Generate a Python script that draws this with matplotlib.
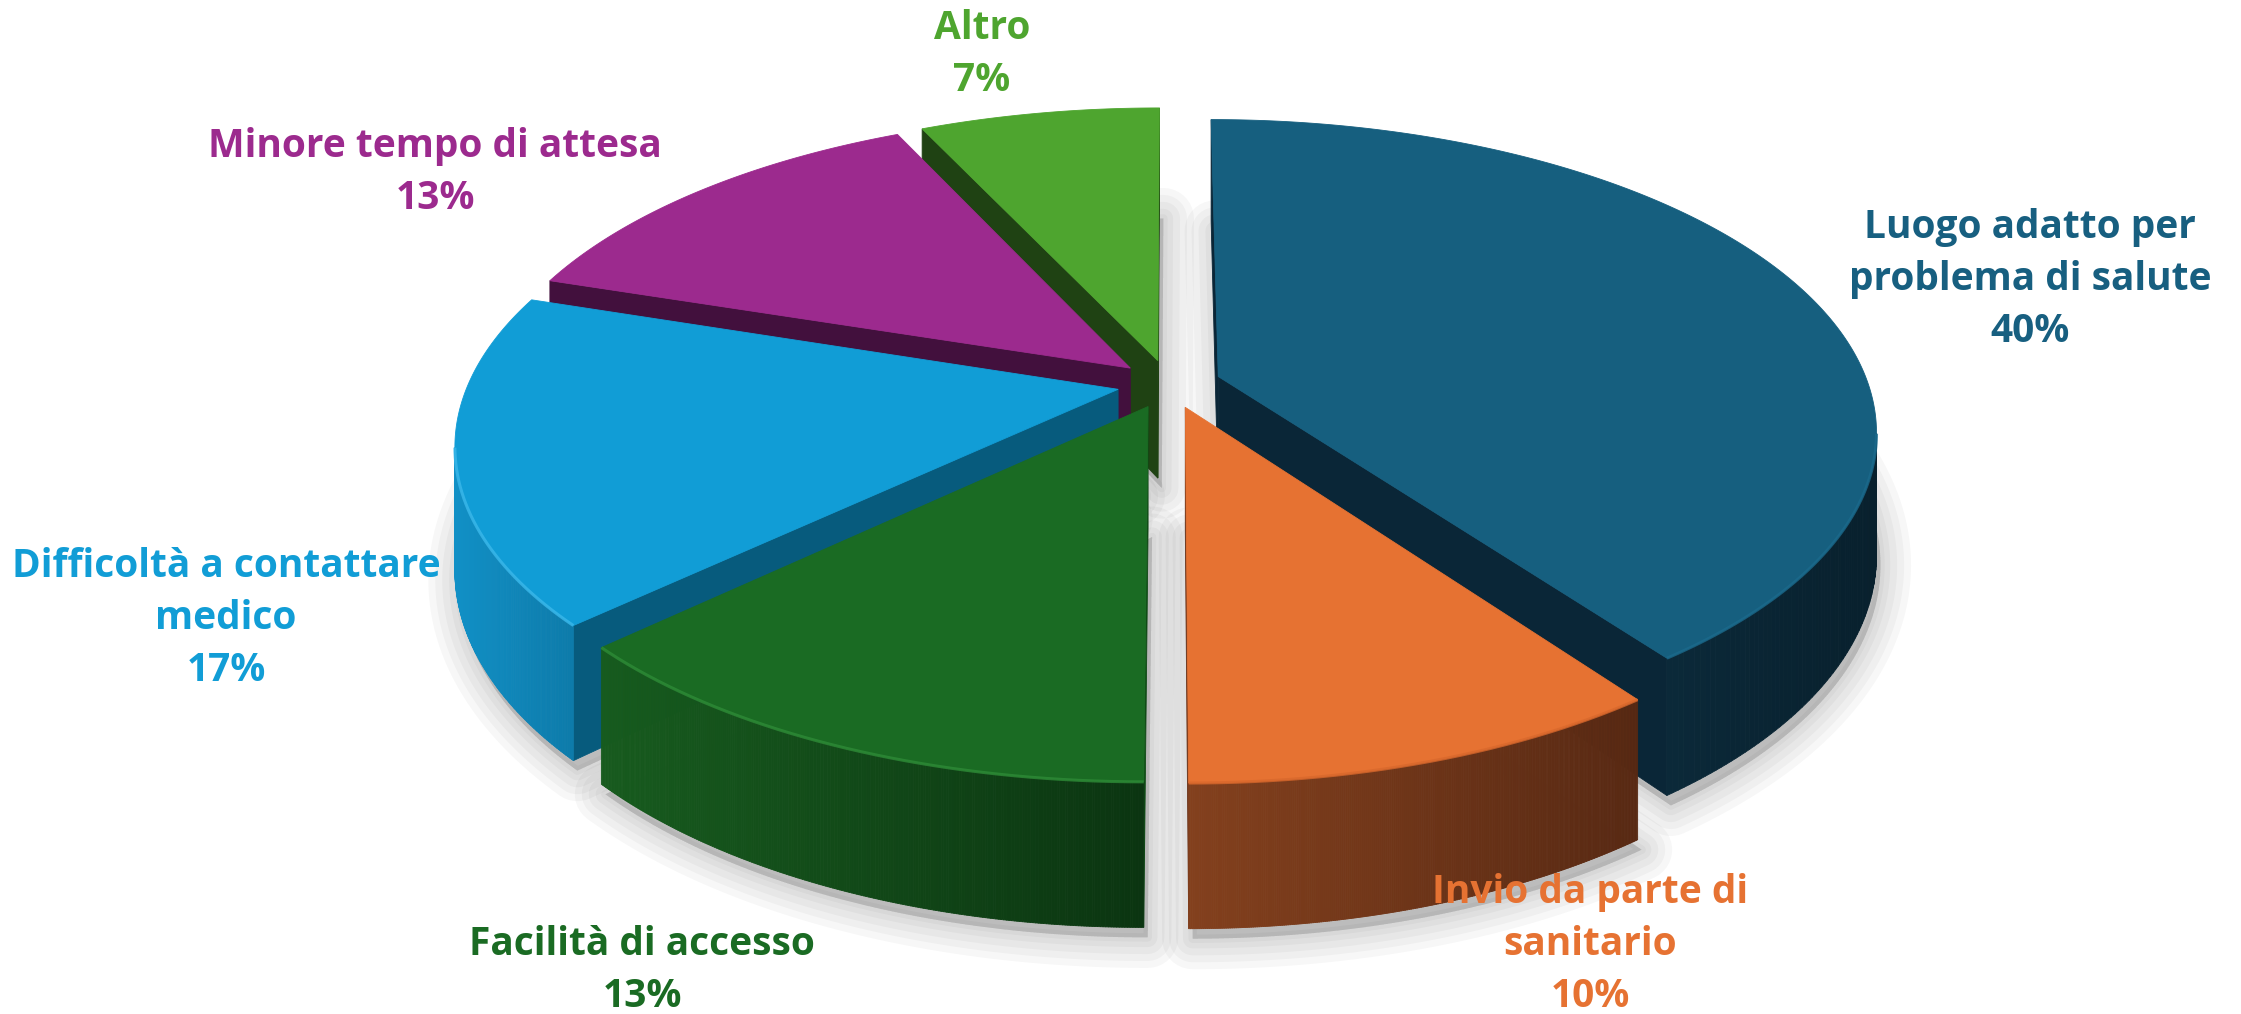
import numpy as np
import matplotlib
matplotlib.use("Agg")
import matplotlib.pyplot as plt
from matplotlib.patches import Polygon
from matplotlib.collections import PolyCollection
from matplotlib.colors import to_rgb

# data (clockwise from 12 o'clock)
labels = [
    ["Luogo adatto per", "problema di salute"],
    ["Invio da parte di", "sanitario"],
    ["Facilità di accesso"],
    ["Difficoltà a contattare", "medico"],
    ["Minore tempo di attesa"],
    ["Altro"],
]
values = [40, 10, 13, 17, 13, 7]

# style
top_colors = ["#165F7F", "#E67232", "#1A6B23", "#119DD6", "#9C2A8E", "#4EA52F"]
cut_colors = ["#0A2637", "#6B3218", "#0F4A15", "#075B7D", "#42103D", "#1F4213"]
wall_left = ["#0B2939", "#83401D", "#175B1E", "#1190C6", "#5E1A55", "#2C6A1C"]
wall_right = ["#08202D", "#582913", "#0B3511", "#0D7BAA", "#4A1444", "#24561A"]
rim_colors = ["#1B6A8C", "#D9682C", "#2E8B37", "#3BB8EA", "#A8389A", "#5DB53C"]
label_colors = ["#175F80", "#E67232", "#1A6B23", "#119DD6", "#9C2A8E", "#4EA52F"]

# label anchors (center x, first baseline y) in pixels
label_pos = [(2030, 238), (1590, 903), (642, 955), (226, 577), (435, 157), (982, 39)]
LINE_STEP = 52

W, H = 2241, 1014
CX, CY = 1169, 384
RX, RY = 650, 303
PERSP = 0.17
DEPTH = 119
EXPLODE = 0.08
CAM = np.array([0.0, -1.0 / PERSP])


def project(u, v, bottom=False):
    w = 1 + PERSP * v
    x = CX + RX * u / w
    y = CY - RY * v / w
    if bottom:
        y = y + DEPTH / w
    return x, y


def mix(c1, c2, f):
    a, b = np.array(to_rgb(c1)), np.array(to_rgb(c2))
    return tuple(a + (b - a) * f)


fig = plt.figure(figsize=(W / 100, H / 100), dpi=100)
ax = fig.add_axes([0, 0, 1, 1])
ax.set_xlim(0, W)
ax.set_ylim(H, 0)
ax.axis("off")

total = sum(values)
theta = np.radians(90 - 360 * np.cumsum([0] + values) / total)

slices = []
for i in range(len(values)):
    s, e = theta[i], theta[i + 1]
    mid = (s + e) / 2
    off = EXPLODE * np.array([np.cos(mid), np.sin(mid)])
    t = np.linspace(s, e, 240)
    depth_key = 0.5 * np.sin(mid) + off[1]
    slices.append(dict(i=i, s=s, e=e, off=off, t=t, key=depth_key))

# soft shadow below every slice
for sl in slices:
    u = np.concatenate([[sl["off"][0]], sl["off"][0] + np.cos(sl["t"])])
    v = np.concatenate([[sl["off"][1]], sl["off"][1] + np.sin(sl["t"])])
    x, y = project(u, v, bottom=True)
    pts = np.column_stack([x + 4, y + 10])
    for lw in [44, 34, 24, 14, 6]:
        ax.add_patch(Polygon(pts, closed=True, facecolor="black", edgecolor="black",
                             alpha=0.03, lw=lw, joinstyle="round", zorder=1))

z = 10
for sl in sorted(slices, key=lambda d: -d["key"]):
    i, off, t = sl["i"], sl["off"], sl["t"]
    s, e = sl["s"], sl["e"]

    # radial cut faces
    for ang, n in [(s, np.array([-np.sin(s), np.cos(s)])),
                   (e, np.array([np.sin(e), -np.cos(e)]))]:
        if np.dot(n, CAM - off) > 0:
            u = np.array([off[0], off[0] + np.cos(ang)])
            v = np.array([off[1], off[1] + np.sin(ang)])
            xt, yt = project(u, v)
            xb, yb = project(u, v, bottom=True)
            quad = [(xt[0], yt[0]), (xt[1], yt[1]), (xb[1], yb[1]), (xb[0], yb[0])]
            ax.add_patch(Polygon(quad, closed=True, facecolor=cut_colors[i],
                                 edgecolor=cut_colors[i], lw=0.6, zorder=z))
            z += 1

    # outer wall, drawn in thin strips with a left-right shade
    tm = (t[:-1] + t[1:]) / 2
    n = np.column_stack([np.cos(tm), np.sin(tm)])
    p = off + n
    vis = np.einsum("ij,ij->i", n, CAM - p) > 0
    if vis.any():
        u = off[0] + np.cos(t)
        v = off[1] + np.sin(t)
        xt, yt = project(u, v)
        xb, yb = project(u, v, bottom=True)
        idx = np.where(vis)[0]
        xs = xt[idx]
        x0, x1 = xs.min(), xs.max()
        polys, cols = [], []
        for j in idx:
            polys.append([(xt[j], yt[j]), (xt[j + 1], yt[j + 1]),
                          (xb[j + 1], yb[j + 1]), (xb[j], yb[j])])
            f = (xt[j] - x0) / max(x1 - x0, 1)
            cols.append(mix(wall_left[i], wall_right[i], f))
        ax.add_collection(PolyCollection(polys, facecolors=cols, edgecolors=cols,
                                         linewidths=0.6, zorder=z))
        z += 1

    # top face
    u = np.concatenate([[off[0]], off[0] + np.cos(t)])
    v = np.concatenate([[off[1]], off[1] + np.sin(t)])
    x, y = project(u, v)
    ax.add_patch(Polygon(np.column_stack([x, y]), closed=True, facecolor=top_colors[i],
                         edgecolor=top_colors[i], lw=0.6, zorder=z))
    z += 1

    # light rim on the front edge of the top
    if vis.any():
        xr, yr = project(off[0] + np.cos(t), off[1] + np.sin(t))
        m = np.zeros(len(t), bool)
        m[idx] = True
        m[idx + 1] = True
        ax.plot(xr[m], yr[m], color=rim_colors[i], lw=2.2, alpha=0.8,
                solid_capstyle="butt", zorder=z)
        z += 1

# labels
for i, lines in enumerate(labels):
    x0, y0 = label_pos[i]
    pct = f"{values[i] / total * 100:.0f}%"
    for k, line in enumerate(lines + [pct]):
        ax.text(x0, y0 + k * LINE_STEP, line, ha="center", va="baseline",
                fontsize=28, fontweight="bold", family=["Open Sans", "DejaVu Sans"],
                color=label_colors[i], zorder=z + 5)

fig.savefig("out.png", dpi=100, facecolor="white")
